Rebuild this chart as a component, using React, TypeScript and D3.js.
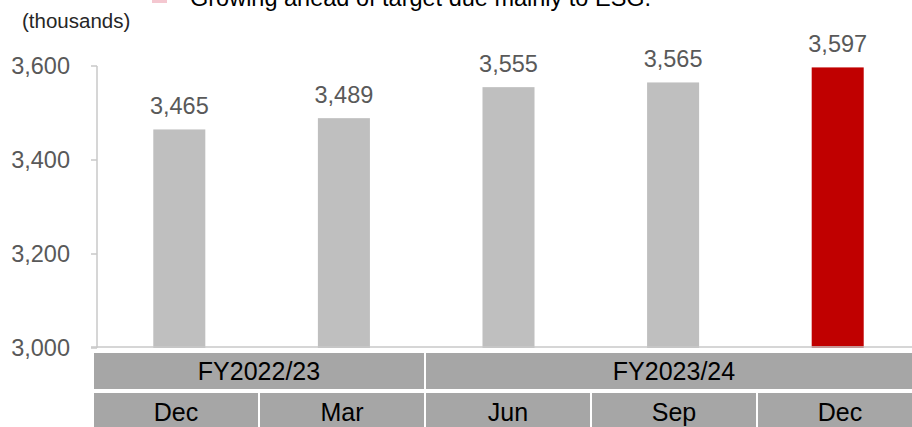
import * as d3 from "d3";

const categories = ["Dec", "Mar", "Jun", "Sep", "Dec"];
const fiscalYears = ["FY2022/23", "FY2022/23", "FY2023/24", "FY2023/24", "FY2023/24"];
const values = [3465, 3489, 3555, 3565, 3597];
const highlight = [false, false, false, false, true];
const yTicks = [3000, 3200, 3400, 3600];
const unitLabel = "(thousands)";
const legendText = "Growing ahead of target due mainly to ESG.";

const W = 912;
const H = 427;
const FONT = "'Liberation Sans', Arial, sans-serif";

// group consecutive fiscal years into header cells
const groups: { label: string; start: number; span: number }[] = [];
fiscalYears.forEach((fy, i) => {
  const last = groups[groups.length - 1];
  if (last && last.label === fy) last.span += 1;
  else groups.push({ label: fy, start: i, span: 1 });
});

export default function App() {
  const y = d3.scaleLinear().domain([3000, 3600]).range([348, 66]);
  const x = d3
    .scaleBand<number>()
    .domain(d3.range(categories.length))
    .range([97, 920])
    .paddingInner(0.684)
    .paddingOuter(0.342);
  // table columns are laid out a little wider than the plot
  const tx = d3.scaleBand<number>().domain(d3.range(categories.length)).range([93, 923]);
  const fmt = d3.format(",");

  const row1 = [352, 390];
  const row2 = [392, 430];

  return (
    <>
      <style>{`body{margin:0}`}</style>
      <svg width={W} height={H} style={{ display: "block", fontFamily: FONT }}>
        {/* legend line, partly cut off at the top */}
        <rect x={152} y={-12} width={15} height={15} fill="#f4c7d0" />
        <text x={190} y={6} fontSize={23.5} fill="#000">
          {legendText}
        </text>

        <text x={22} y={28} fontSize={20.5} fill="#262626">
          {unitLabel}
        </text>

        {/* y axis */}
        <line x1={97} x2={97} y1={y(3600)} y2={y(3000)} stroke="#c8c8c8" strokeWidth={1.5} />
        {yTicks.map((t) => (
          <g key={t}>
            <line x1={91} x2={97} y1={y(t)} y2={y(t)} stroke="#c8c8c8" strokeWidth={1.5} />
            <text
              x={70}
              y={y(t)}
              dy="0.36em"
              textAnchor="end"
              fontSize={23.5}
              fill="#595959"
            >
              {fmt(t)}
            </text>
          </g>
        ))}

        {/* bars */}
        {values.map((v, i) => (
          <g key={i}>
            <rect
              x={x(i)}
              y={y(v)}
              width={x.bandwidth()}
              height={y(3000) - y(v)}
              fill={highlight[i] ? "#c00000" : "#bfbfbf"}
            />
            <text
              x={(x(i) as number) + x.bandwidth() / 2}
              y={y(v) - 15}
              textAnchor="middle"
              fontSize={23.5}
              fill="#595959"
            >
              {fmt(v)}
            </text>
          </g>
        ))}

        {/* x baseline */}
        <line x1={91} x2={W} y1={347} y2={347} stroke="#c8c8c8" strokeWidth={1.5} />

        {/* category table */}
        {groups.map((g) => {
          const x0 = tx(g.start) as number;
          const x1 = (tx(g.start + g.span - 1) as number) + tx.bandwidth();
          return (
            <g key={g.label}>
              <rect
                x={x0}
                y={row1[0]}
                width={x1 - x0}
                height={row1[1] - row1[0]}
                fill="#a6a6a6"
                stroke="#fff"
                strokeWidth={2}
              />
              <text
                x={(x0 + x1) / 2}
                y={(row1[0] + row1[1]) / 2}
                dy="0.36em"
                textAnchor="middle"
                fontSize={25}
                fill="#000"
              >
                {g.label}
              </text>
            </g>
          );
        })}
        {categories.map((c, i) => (
          <g key={i}>
            <rect
              x={tx(i)}
              y={row2[0]}
              width={tx.bandwidth()}
              height={row2[1] - row2[0]}
              fill="#a6a6a6"
              stroke="#fff"
              strokeWidth={2}
            />
            <text
              x={(tx(i) as number) + tx.bandwidth() / 2}
              y={412}
              dy="0.36em"
              textAnchor="middle"
              fontSize={25}
              fill="#000"
            >
              {c}
            </text>
          </g>
        ))}
      </svg>
    </>
  );
}
